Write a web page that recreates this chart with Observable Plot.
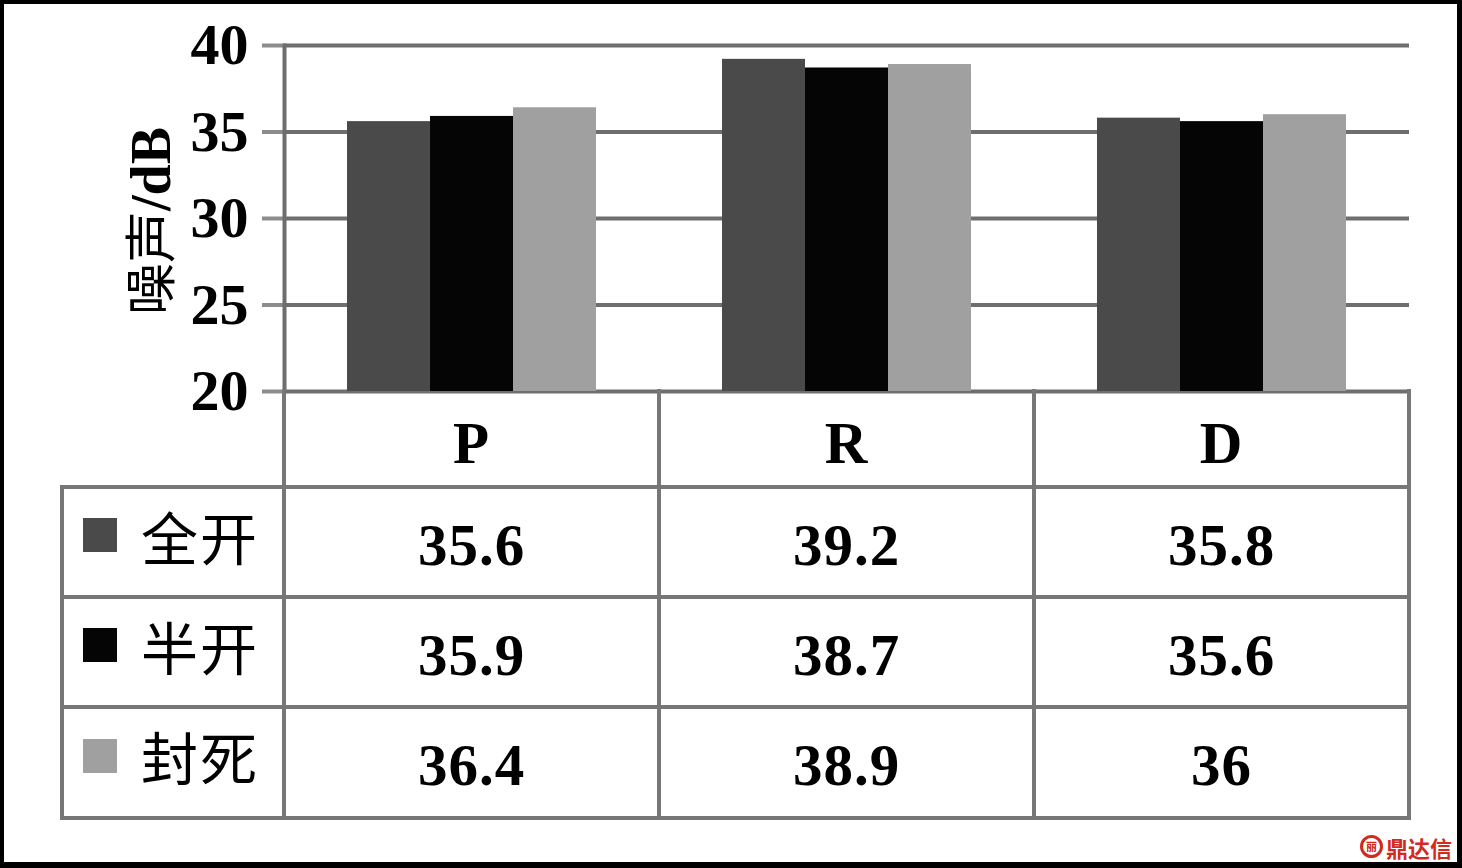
<!DOCTYPE html>
<html><head><meta charset="utf-8">
<script src="https://cdn.jsdelivr.net/npm/d3@7"></script>
<script src="https://cdn.jsdelivr.net/npm/@observablehq/plot@0.6"></script>
<style>
body{margin:0;background:#fff;}
#wrap{position:relative;width:1462px;height:868px;overflow:hidden;background:#fff;}
#wrap svg{position:absolute;left:0;top:0;}
#frame{position:absolute;left:0;top:0;width:1462px;height:868px;box-sizing:border-box;border:4px solid #000;border-right-width:5px;border-bottom-width:6px;pointer-events:none;}
.ln{position:absolute;background:#777;}
.cell{position:absolute;display:flex;align-items:center;justify-content:center;font-family:"Liberation Serif","Times New Roman",serif;font-weight:bold;font-size:59px;letter-spacing:1px;color:#000;line-height:1;}
.leg{position:absolute;display:flex;align-items:center;font-family:"Noto Sans CJK SC",sans-serif;font-size:57px;color:#000;line-height:1;}
.sq{width:34px;height:34px;margin-right:24px;}
#ytitle{position:absolute;left:150px;top:221px;transform:translate(-50%,-50%) rotate(-90deg);white-space:nowrap;font-size:52px;line-height:1;color:#000;}
#wm{position:absolute;left:1360px;top:835px;display:flex;align-items:center;color:#d32a1f;font-family:"Noto Sans CJK SC",sans-serif;font-weight:bold;font-size:22px;line-height:1;}
#wm .c{width:17px;height:17px;border:3px solid #d32a1f;border-radius:50%;margin-right:3px;font-size:11px;display:flex;align-items:center;justify-content:center;}
</style></head><body><div id="wrap"></div>
<script>
const categories = ["P", "R", "D"];
const seriesNames = ["全开", "半开", "封死"];
const seriesColors = ["#4a4a4a", "#050505", "#a0a0a0"];
const quankai = [35.6, 39.2, 35.8];
const bankai = [35.9, 38.7, 35.6];
const fengsi = [36.4, 38.9, 36];
const valueLabels = [["35.6", "39.2", "35.8"], ["35.9", "38.7", "35.6"], ["36.4", "38.9", "36"]];
const yTicks = [20, 25, 30, 35, 40];
const yTitleCJK = "噪声";
const yTitleUnit = "/dB";
const watermark = "鼎达信";

const seriesValues = [quankai, bankai, fengsi];
const data = categories.flatMap((c, i) => seriesNames.map((s, j) => ({category: c, series: s, value: seriesValues[j][i]})));

const W = 1462, H = 868;
const plot = Plot.plot({
  width: W, height: H,
  marginLeft: 283, marginRight: 52, marginTop: 45, marginBottom: 477,
  fx: {domain: categories, padding: 0, axis: null},
  x: {domain: seriesNames, paddingInner: 0, paddingOuter: 0.74, axis: null},
  y: {domain: [yTicks[0], yTicks[yTicks.length - 1]], axis: null},
  color: {domain: seriesNames, range: seriesColors},
  style: {background: "transparent", fontFamily: "Liberation Serif, serif", color: "#000"},
  marks: [
    Plot.gridY(yTicks, {stroke: "#6e6e6e", strokeOpacity: 1, strokeWidth: 4}),
    Plot.barY(data, {fx: "category", x: "series", y1: yTicks[0], y2: "value", fill: "series"}),
    Plot.axisY({ticks: yTicks, tickSize: 22, tickPadding: 14, stroke: "#8c8c8c", strokeWidth: 4, strokeOpacity: 1, fontSize: 58, fontWeight: "bold", fill: "#000", label: null}),
    Plot.frame({anchor: "left", facetAnchor: "left", stroke: "#6e6e6e", strokeWidth: 4, strokeOpacity: 1})
  ]
});

const wrap = document.getElementById("wrap");
wrap.appendChild(plot);

// data table under the chart, aligned on the fx scale
const fx = plot.scale("fx");
const edges = categories.map(c => fx.apply(c));
edges.push(edges[edges.length - 1] + fx.bandwidth);
const yScale = plot.scale("y");
const tableLeft = 62;
const rowsY = [yScale.apply(yTicks[0]), 487, 597, 707, 818];
const lw = 4;
function line(x, y, w, h) {
  const d = document.createElement("div");
  d.className = "ln";
  d.style.left = x + "px"; d.style.top = y + "px"; d.style.width = w + "px"; d.style.height = h + "px";
  wrap.appendChild(d);
}
for (let r = 1; r < rowsY.length; r++) line(tableLeft - lw / 2, rowsY[r] - lw / 2, edges[edges.length - 1] - tableLeft + lw, lw);
line(tableLeft - lw / 2, rowsY[1] - lw / 2, lw, rowsY[4] - rowsY[1] + lw);
edges.forEach(e => line(e - lw / 2, rowsY[0] - lw / 2, lw, rowsY[4] - rowsY[0] + lw));

function cell(x0, x1, y0, y1, text, dy) {
  const d = document.createElement("div");
  d.className = "cell";
  d.style.left = x0 + "px"; d.style.top = (y0 + (dy || 0)) + "px";
  d.style.width = (x1 - x0) + "px"; d.style.height = (y1 - y0) + "px";
  d.textContent = text;
  wrap.appendChild(d);
}
categories.forEach((c, i) => cell(edges[i], edges[i + 1], rowsY[0], rowsY[1], c, 4));
seriesNames.forEach((s, j) => {
  categories.forEach((c, i) => cell(edges[i], edges[i + 1], rowsY[j + 1], rowsY[j + 2], valueLabels[j][i], 3));
  const g = document.createElement("div");
  g.className = "leg";
  g.style.left = "83px"; g.style.top = (rowsY[j + 1] - 7) + "px"; g.style.height = (rowsY[j + 2] - rowsY[j + 1]) + "px";
  const sq = document.createElement("div"); sq.className = "sq"; sq.style.background = seriesColors[j];
  const t = document.createElement("span"); t.textContent = s; t.style.letterSpacing = "2px";
  g.appendChild(sq); g.appendChild(t);
  wrap.appendChild(g);
});

const yt = document.createElement("div");
yt.id = "ytitle";
yt.innerHTML = `<span style="font-family:'Noto Sans CJK SC',sans-serif;">${yTitleCJK}</span><span style="font-family:'Liberation Serif',serif;font-weight:bold;font-size:56px;">${yTitleUnit}</span>`;
wrap.appendChild(yt);

const wm = document.createElement("div");
wm.id = "wm";
wm.innerHTML = `<div class="c">丽</div><span>${watermark}</span>`;
wrap.appendChild(wm);

const fr = document.createElement("div");
fr.id = "frame";
wrap.appendChild(fr);
</script></body></html>
